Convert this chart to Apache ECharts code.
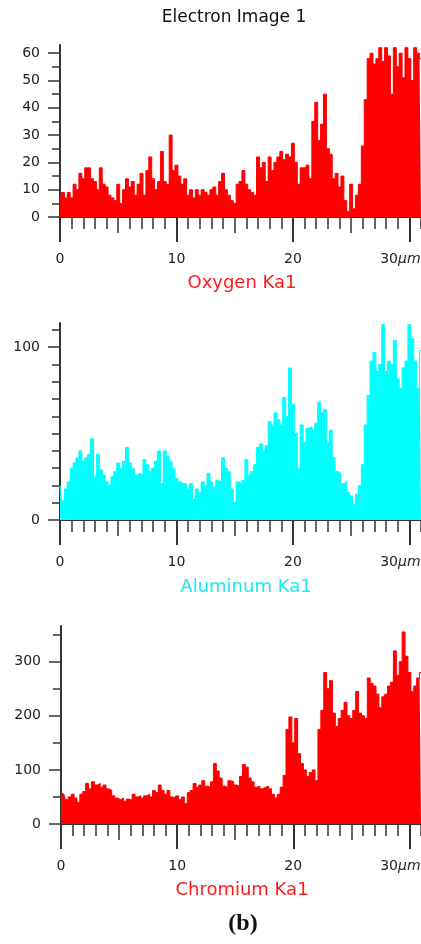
<!DOCTYPE html>
<html>
<head>
<meta charset="utf-8">
<script src="https://cdn.jsdelivr.net/npm/echarts@6/dist/echarts.min.js"></script>
<style>
  html, body { margin: 0; padding: 0; background: #fff; }
  #chart { width: 421px; height: 944px; }
</style>
</head>
<body>
<div id="chart"></div>
<script>
// EDS line scan, one reading every 0.25 um (0 .. 31 um)
const scanStep = 0.25;

const oxygen = [5, 9, 7, 9, 7, 12, 10, 16, 14, 18,
  18, 14, 13, 10, 18, 12, 11, 8, 7, 6,
  12, 5, 10, 14, 11, 13, 8, 12, 16, 8,
  17, 22, 14, 10, 13, 24, 13, 12, 30, 17,
  19, 15, 12, 14, 8, 10, 7, 10, 8, 10,
  9, 8, 10, 11, 8, 13, 16, 10, 8, 6,
  5, 12, 13, 17, 12, 10, 9, 8, 22, 18,
  20, 13, 22, 17, 20, 22, 24, 21, 23, 22,
  27, 20, 12, 18, 18, 19, 14, 35, 42, 28,
  34, 45, 25, 23, 14, 16, 11, 15, 6, 2,
  12, 3, 8, 12, 26, 43, 58, 60, 56, 58,
  62, 57, 62, 59, 45, 62, 55, 60, 51, 62,
  58, 50, 62, 60, 58];

const aluminum = [20, 11, 18, 22, 30, 33, 36, 40, 34, 36,
  38, 47, 25, 38, 29, 26, 22, 20, 25, 28,
  33, 30, 34, 42, 33, 30, 26, 27, 26, 35,
  32, 28, 30, 34, 40, 21, 40, 37, 34, 30,
  24, 22, 21, 21, 18, 21, 12, 18, 16, 22,
  20, 27, 22, 19, 23, 22, 36, 30, 28, 18,
  10, 22, 21, 23, 35, 26, 28, 32, 42, 44,
  40, 43, 57, 55, 62, 58, 55, 71, 60, 88,
  67, 50, 30, 55, 45, 53, 54, 52, 56, 68,
  62, 64, 45, 52, 36, 28, 27, 21, 22, 16,
  14, 9, 15, 20, 32, 55, 72, 92, 97, 86,
  90, 113, 86, 92, 90, 104, 82, 76, 88, 92,
  113, 105, 92, 76, 98];

const chromium = [58, 55, 45, 50, 55, 48, 40, 55, 60, 75,
  65, 78, 72, 75, 68, 72, 65, 62, 52, 48,
  45, 48, 42, 46, 44, 55, 50, 52, 48, 52,
  55, 50, 62, 58, 72, 62, 55, 62, 50, 48,
  52, 45, 50, 38, 58, 62, 75, 68, 72, 80,
  70, 68, 78, 112, 98, 85, 70, 68, 80, 78,
  72, 70, 88, 110, 105, 85, 78, 68, 70, 65,
  68, 70, 65, 55, 48, 55, 68, 90, 175, 198,
  150, 195, 130, 112, 100, 88, 95, 100, 80, 175,
  210, 280, 250, 265, 205, 180, 195, 210, 225, 200,
  195, 210, 245, 205, 200, 195, 270, 260, 255, 240,
  215, 235, 240, 255, 262, 320, 275, 300, 355, 310,
  280, 245, 255, 270, 280];

// tick / label values
const xLabelTicks = [0, 10, 20, 30];
const xMidTicks = [5, 15, 25];
const xMinorTicks = [0, 1, 2, 3, 4, 5, 6, 7, 8, 9, 10, 11, 12, 13, 14, 15,
  16, 17, 18, 19, 20, 21, 22, 23, 24, 25, 26, 27, 28, 29, 30, 31];
const oxygenLabels = [0, 10, 20, 30, 40, 50, 60];
const oxygenMinor = [5, 15, 25, 35, 45, 55];
const aluminumLabels = [0, 100];
const aluminumMinor = [10, 20, 30, 40, 50, 60, 70, 80, 90, 110];
const chromiumLabels = [0, 100, 200, 300];
const chromiumMinor = [50, 150, 250, 350];

const AXIS = "#333";
const FONT = "DejaVu Sans";

function xAxesFor(grid, max) {
  const base = {
    type: "value", gridIndex: grid, min: 0, max: max, position: "bottom",
    splitLine: { show: false }, axisLine: { show: false }, axisLabel: { show: false }
  };
  return [
    Object.assign({}, base, {
      axisLine: { show: true, onZero: false, lineStyle: { color: AXIS, width: 2 } },
      axisTick: { show: true, length: 12, customValues: xMinorTicks, lineStyle: { color: AXIS, width: 1.5 } }
    }),
    Object.assign({}, base, {
      axisTick: { show: true, length: 16, customValues: xMidTicks, lineStyle: { color: AXIS, width: 1.5 } }
    }),
    Object.assign({}, base, {
      axisTick: { show: true, length: 25, customValues: xLabelTicks, lineStyle: { color: AXIS, width: 2 } },
      axisLabel: {
        show: true, customValues: xLabelTicks, margin: 35,
        formatter: function (v) {
          return v === 30 ? "{n|30}{u|μm}{s| }" : "{n|" + v + "}";
        },
        rich: {
          n: { fontFamily: FONT, fontSize: 14, color: "#222" },
          u: { fontFamily: FONT, fontSize: 14, fontStyle: "italic", color: "#222" },
          s: { width: 18, fontSize: 14 }
        }
      }
    })
  ];
}

function yAxesFor(grid, max, labels, minor) {
  return [
    {
      type: "value", gridIndex: grid, min: 0, max: max, position: "left",
      splitLine: { show: false },
      axisLine: { show: true, onZero: false, lineStyle: { color: AXIS, width: 2 } },
      axisTick: { show: true, length: 12, customValues: labels, lineStyle: { color: AXIS, width: 1.5 } },
      axisLabel: { show: true, customValues: labels, margin: 20, fontFamily: FONT, fontSize: 14, color: "#222" }
    },
    {
      type: "value", gridIndex: grid, min: 0, max: max, position: "left",
      splitLine: { show: false }, axisLine: { show: false }, axisLabel: { show: false },
      axisTick: { show: true, length: 8, customValues: minor, lineStyle: { color: AXIS, width: 1.5 } }
    }
  ];
}

function scanSeries(name, values, color, grid) {
  return {
    name: name, type: "line", step: "middle", symbol: "none",
    xAxisIndex: grid * 3, yAxisIndex: grid * 2,
    data: values.map((v, i) => [i * scanStep, v]),
    lineStyle: { color: color, width: 1 },
    areaStyle: { color: color, opacity: 1 },
    itemStyle: { color: color }
  };
}

const chart = echarts.init(document.getElementById("chart"));
chart.setOption({
  animation: false,
  backgroundColor: "#fff",
  title: [
    { text: "Electron Image 1", left: 234, top: 9, textAlign: "center", padding: 0,
      textStyle: { fontFamily: FONT, fontSize: 17, fontWeight: "normal", color: "#111" } },
    { text: "Oxygen Ka1", left: 242, top: 274, textAlign: "center", padding: 0,
      textStyle: { fontFamily: FONT, fontSize: 18, fontWeight: "normal", color: "#ff1a1a" } },
    { text: "Aluminum Ka1", left: 246, top: 578, textAlign: "center", padding: 0,
      textStyle: { fontFamily: FONT, fontSize: 18, fontWeight: "normal", color: "#1de9f0" } },
    { text: "Chromium Ka1", left: 242, top: 881, textAlign: "center", padding: 0,
      textStyle: { fontFamily: FONT, fontSize: 18, fontWeight: "normal", color: "#ff1a1a" } },
    { text: "(b)", left: 243, top: 912, textAlign: "center", padding: 0,
      textStyle: { fontFamily: "Liberation Serif", fontSize: 24, fontWeight: "bold", color: "#111" } }
  ],
  grid: [
    { left: 60, top: 45, width: 361, height: 172, outerBoundsMode: "none" },
    { left: 60, top: 323, width: 361, height: 197, outerBoundsMode: "none" },
    { left: 61, top: 626, width: 360, height: 198, outerBoundsMode: "none" }
  ],
  xAxis: [].concat(xAxesFor(0, 31), xAxesFor(1, 31), xAxesFor(2, 31)),
  yAxis: [].concat(
    yAxesFor(0, 63, oxygenLabels, oxygenMinor),
    yAxesFor(1, 114, aluminumLabels, aluminumMinor),
    yAxesFor(2, 366, chromiumLabels, chromiumMinor)
  ),
  series: [
    scanSeries("Oxygen Ka1", oxygen, "#ff0000", 0),
    scanSeries("Aluminum Ka1", aluminum, "#00ffff", 1),
    scanSeries("Chromium Ka1", chromium, "#ff0000", 2)
  ]
});
</script>
</body>
</html>
